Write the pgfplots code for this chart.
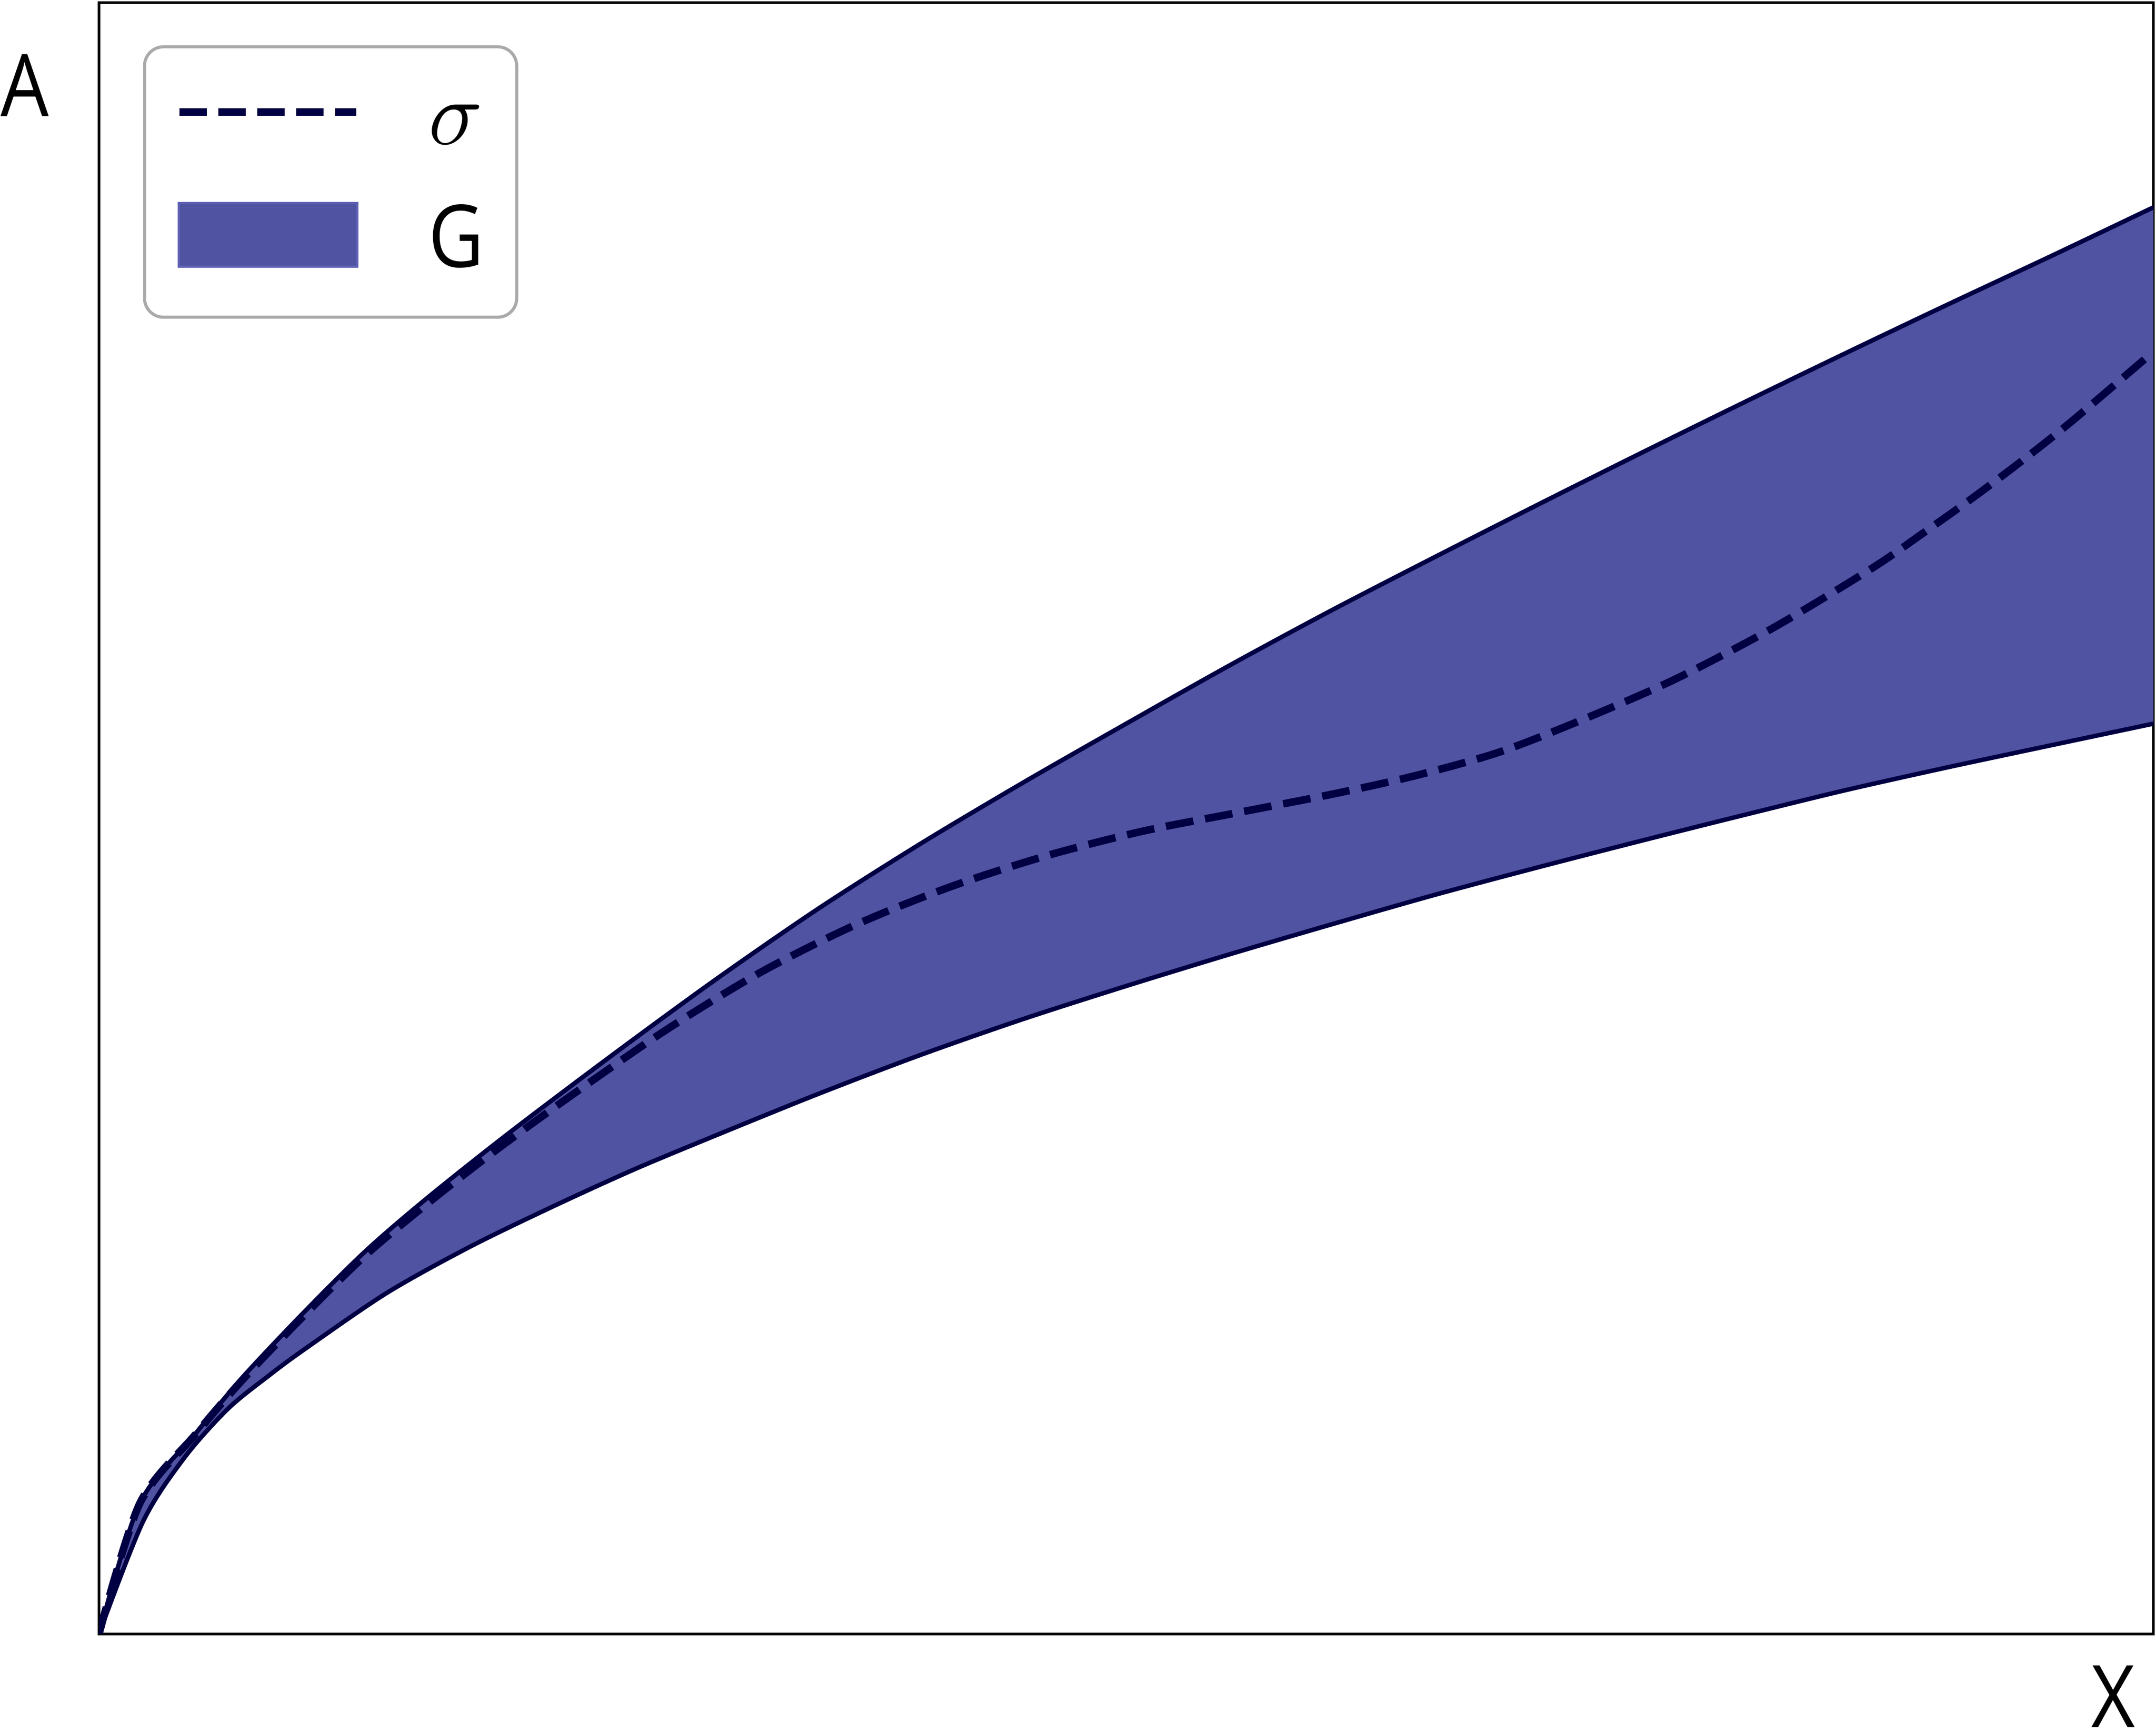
\documentclass[border=0pt]{standalone}
\usepackage{fontspec}
\setmainfont{Open Sans}[FakeStretch=0.88]
\usepackage{pgfplots}
\pgfplotsset{compat=1.18}
\usepgfplotslibrary{fillbetween}

\definecolor{navy}{RGB}{0,0,66}
\definecolor{band}{RGB}{80,82,162}
\definecolor{bandedge}{RGB}{96,98,182}
\definecolor{frame}{RGB}{170,170,170}

\begin{document}
\begin{tikzpicture}
\begin{axis}[
  scale only axis,
  width=464.8pt, height=369.2pt,
  xmin=0, xmax=100, ymin=0, ymax=100,
  xtick=\empty, ytick=\empty,
  axis line style={line width=0.67pt},
  legend style={
    at={(0.02141,0.97386)}, anchor=north west,
    draw=frame, line width=0.7pt, rounded corners=4.3pt, fill=white,
    inner xsep=7pt, inner ysep=6.05pt,
    row sep=6.5pt, column sep=15.5pt,
    font=\fontsize{19.6}{23}\selectfont,
    cells={anchor=base west},
    nodes={inner sep=0pt, anchor=base west, text height=16pt, text depth=5.3pt, text width=13pt},
  },
]
% band edges
\addplot[name path=upper, navy, line width=1pt, smooth, tension=0.5, forget plot] coordinates {
  (0,0) (1.98,7.99) (4.67,12.24) (7,15.75) (10,19.75) (13,23.5) (16,26.75)
  (20,30.75) (25,35.5) (30,40.1) (35,44.45) (40,48.45) (45,52.2) (50,55.8)
  (55,59.35) (60,62.75) (65,66.0) (70,69.2) (75,72.35) (80,75.45) (85,78.5)
  (90,81.5) (95,84.45) (100,87.45)
};
\addplot[name path=lower, navy, line width=1pt, smooth, tension=0.5, forget plot] coordinates {
  (0,0) (2.15,6.91) (4.17,10.83) (6.28,13.81) (8.30,15.87) (10,17.45) (14,20.9)
  (18,23.7) (22,26.15) (26,28.45) (30,30.55) (35,33.1) (40,35.5) (45,37.7)
  (50,39.72) (55,41.65) (60,43.5) (65,45.3) (70,46.98) (75,48.6) (80,50.18)
  (85,51.72) (90,53.13) (95,54.47) (100,55.8)
};
% sigma
\addplot[navy, line width=1.7pt, smooth, tension=0.5, dash pattern=on 6.3pt off 2.7pt,
  legend image code/.code={\draw[navy, line width=1.7pt, sharp corners, dash pattern=on 6.2pt off 2.6pt] (0.4pt,7.3pt) -- (40.4pt,7.3pt);}]
coordinates {
  (0,0) (1.98,7.99) (4.67,12.2) (7,15.6) (10,19.55) (13,23.25) (16,26.4)
  (19,29.35) (22.53,32.6) (27.45,36.9) (32.12,40.5) (36.79,43.45) (41.44,45.8)
  (46.11,47.7) (50.77,49.2) (55.44,50.35) (60.11,51.5) (64,52.59) (68,53.99)
  (71.64,55.75) (76.51,58.4) (81.39,61.6) (86.27,65.3) (88.70,67.4) (91.16,69.6)
  (93.59,71.9) (96.04,74.35) (100,78.6)
};
\addlegendentry{$\sigma$}
% G band
\addplot[fill=band, draw=none,
  legend image code/.code={\path[fill=band, draw=bandedge, line width=0.5pt, sharp corners] (0.25pt,0.1pt) rectangle (40.65pt,14.5pt);}]
  fill between[of=upper and lower];
\addlegendentry{G}
\coordinate (ll) at (rel axis cs:0,0);
\coordinate (ur) at (rel axis cs:1,1);
\end{axis}
\node[anchor=base west, inner sep=0pt, font=\fontsize{19.6}{23}\selectfont] at ([xshift=-22.4pt,yshift=343.4pt]ll) {A};
\node[anchor=base, inner sep=0pt, font=\fontsize{19.6}{23}\selectfont] at ([xshift=455.7pt,yshift=-21.2pt]ll) {X};
\pgfresetboundingbox
\path[use as bounding box] ([xshift=-22.4pt,yshift=-22.4pt]ll) rectangle ([xshift=0.6pt,yshift=0.6pt]ur);
\end{tikzpicture}
\end{document}
